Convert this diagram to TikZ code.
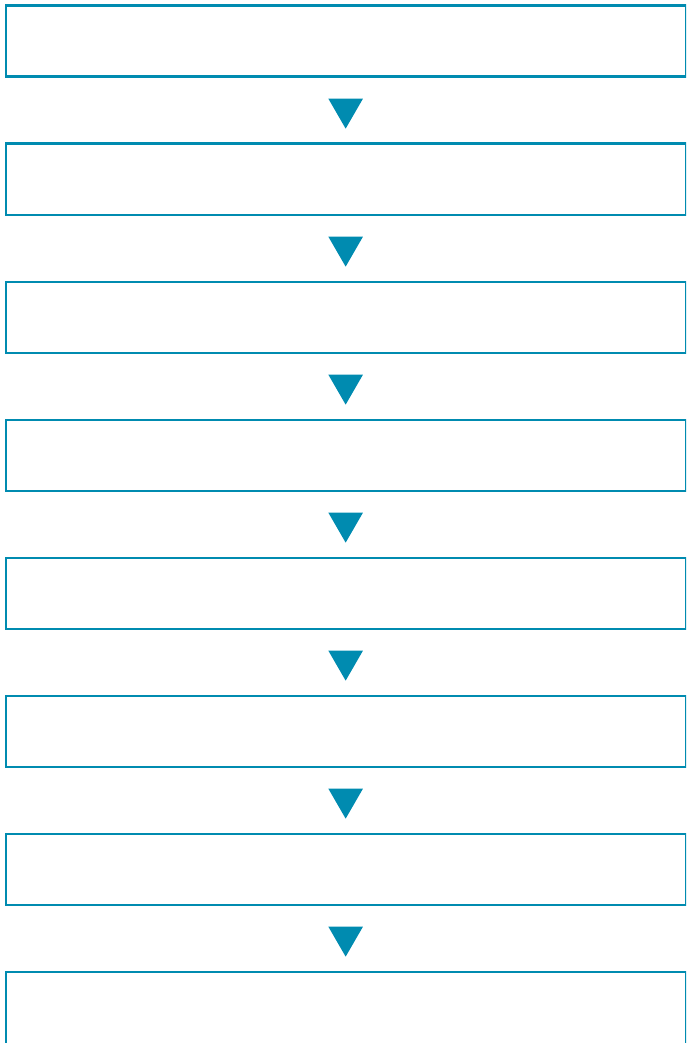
\documentclass[tikz,border=0pt]{standalone}
\usepackage{tikz}
\usetikzlibrary{positioning,shapes.geometric}
\usepackage{xcolor}
\definecolor{teal}{HTML}{008BB0}

\begin{document}
\begin{tikzpicture}[
    x=1pt, y=1pt,
    stepBox/.style={rectangle, draw=teal, line width=2.3pt, fill=white, minimum width=680pt, minimum height=71pt, inner sep=0pt},
    lastBox/.style={stepBox, minimum height=120pt},
    arrowTri/.style={regular polygon, regular polygon sides=3, shape border rotate=180, fill=teal, draw=none, minimum size=40pt, inner sep=0pt, outer sep=0pt, yshift=1.5pt}
]
    \clip (0, 0) rectangle (686, -1043);
    \useasboundingbox (0, 0) rectangle (686, -1043);

    \node[stepBox, anchor=north west] (s1) at (4.5, -4.5) {};
    \node[stepBox, below=64.7pt of s1] (s2) {};
    \node[stepBox, below=64.7pt of s2] (s3) {};
    \node[stepBox, below=64.7pt of s3] (s4) {};
    \node[stepBox, below=64.7pt of s4] (s5) {};
    \node[stepBox, below=64.7pt of s5] (s6) {};
    \node[stepBox, below=64.7pt of s6] (s7) {};
    \node[lastBox, below=64.7pt of s7] (s8) {};

    \foreach \a/\b in {s1/s2, s2/s3, s3/s4, s4/s5, s5/s6, s6/s7, s7/s8}
        \path (\a.south) -- (\b.north) node[midway, arrowTri] {};
\end{tikzpicture}
\end{document}
